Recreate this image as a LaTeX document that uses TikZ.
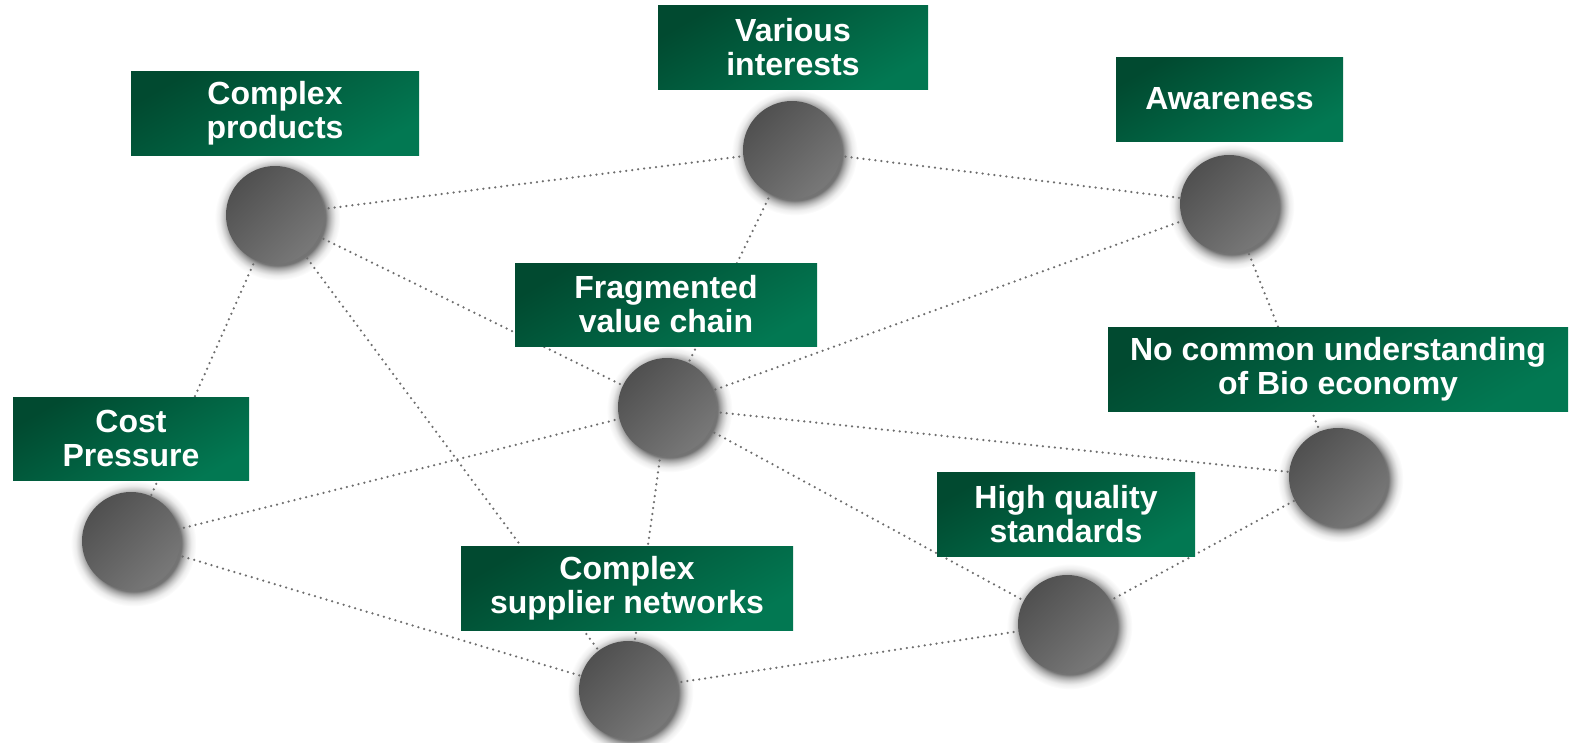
\documentclass[tikz,border=0pt]{standalone}
\usepackage{fontspec}
\setmainfont{Liberation Sans}
\definecolor{boxdark}{HTML}{014A30}
\definecolor{boxlight}{HTML}{027852}
\definecolor{balldark}{HTML}{505050}
\definecolor{balllight}{HTML}{787878}
\definecolor{linkgray}{HTML}{6E6E6E}
% soft halo under each ball: the ball edge sits at about 19.4bp of the 25bp radius
\pgfdeclareradialshading{ballhalo}{\pgfpoint{0bp}{0bp}}{%
  color(0bp)=(black!55); color(19bp)=(black!55); color(20bp)=(black!38);
  color(21.5bp)=(black!20); color(23bp)=(black!7); color(25bp)=(white); color(50bp)=(white)}
\tikzset{
  halo/.style={circle, minimum size=126pt, inner sep=0pt, shading=ballhalo},
  ball/.style={circle, minimum size=98pt, inner sep=0pt,
    top color=balldark, bottom color=balllight, shading angle=45},
  tag/.style={rectangle, inner sep=0pt, align=center,
    top color=boxdark, bottom color=boxlight, shading angle=30,
    text=white, font=\fontsize{32}{34}\selectfont\bfseries},
  link/.style={draw=linkgray, line width=2.5pt, line cap=round, dash pattern=on 0pt off 6pt}
}
\begin{document}
\begin{tikzpicture}[x=1pt,y=-1pt]
\useasboundingbox (0,0) rectangle (1571,742);
% hubs
\coordinate (p1) at (275,215);
\coordinate (p2) at (792,150);
\coordinate (p3) at (1229,204);
\coordinate (p4) at (667,407);
\coordinate (p5) at (1338,477);
\coordinate (p6) at (131,541);
\coordinate (p7) at (1067,624);
\coordinate (p8) at (628,690);
% halos
\foreach \i in {1,...,8}
  \node[halo] (h\i) at ([xshift=2.5pt,yshift=-2.5pt]p\i) {};
% links between hubs
\foreach \a/\b in {1/2,2/3,1/4,2/4,3/4,3/5,1/6,1/8,4/6,4/5,4/7,4/8,6/8,8/7,7/5}
  \draw[link] (p\a) -- (p\b);
% balls
\node[ball] (b1) at (p1) {};
\node[ball] (b2) at (p2) {};
\node[ball] (b3) at (p3) {};
\node[ball] (b4) at (p4) {};
\node[ball] (b5) at (p5) {};
\node[ball] (b6) at (p6) {};
\node[ball] (b7) at (p7) {};
\node[ball] (b8) at (p8) {};
% labels
\node[tag, minimum width=288pt, minimum height=84pt] (t1) at (275,113) {Complex\\products};
\node[tag, minimum width=270pt, minimum height=84pt] (t2) at (793,47) {Various\\interests};
\node[tag, minimum width=227pt, minimum height=84pt] (t3) at (1229.5,99) {Awareness};
\node[tag, minimum width=302pt, minimum height=83pt] (t4) at (666,304.5) {Fragmented\\value chain};
\node[tag, minimum width=460pt, minimum height=84pt] (t5) at (1338,369) {No common understanding\\of Bio economy};
\node[tag, minimum width=236pt, minimum height=83pt] (t6) at (131,438.5) {Cost\\Pressure};
\node[tag, minimum width=258pt, minimum height=84pt] (t7) at (1066,514) {High quality\\standards};
\node[tag, minimum width=332pt, minimum height=84pt] (t8) at (627,588) {Complex\\supplier networks};
\end{tikzpicture}
\end{document}
